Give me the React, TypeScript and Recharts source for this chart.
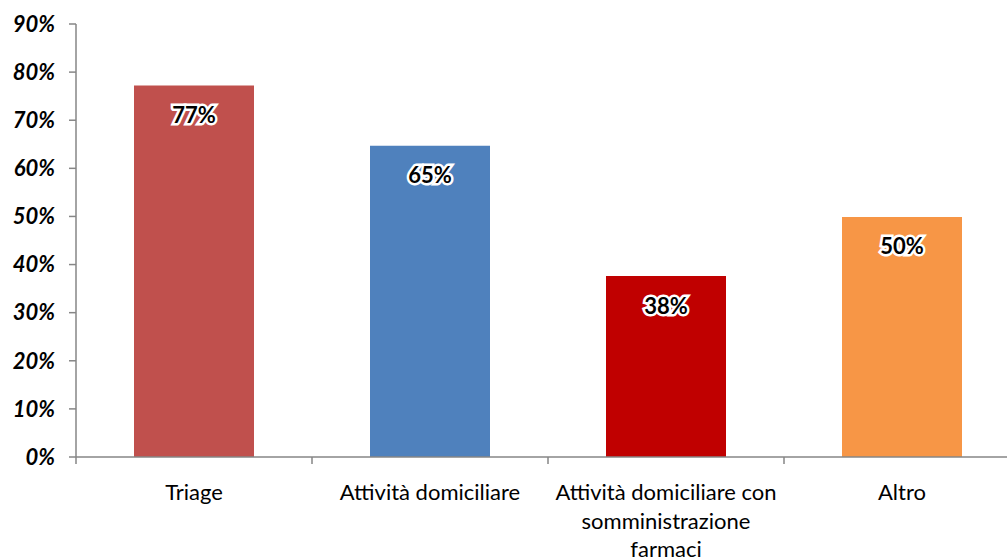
import React from 'react';
import { BarChart, Bar, XAxis, YAxis, Cell, LabelList } from 'recharts';

// categories, values (share of respondents) and bar colours
const categories = [
  'Triage',
  'Attività domiciliare',
  'Attività domiciliare con\nsomministrazione\nfarmaci',
  'Altro',
];
const values = [0.772, 0.647, 0.376, 0.499];
const colors = ['#C0504D', '#4F81BD', '#C00000', '#F79646'];
const yTicks = [0, 0.1, 0.2, 0.3, 0.4, 0.5, 0.6, 0.7, 0.8, 0.9];

const CHART_W = 1020;
const CHART_H = 558;
const Y_W = 76;
const AXIS_COLOR = '#868686';
const FONT = 'Lato, "DejaVu Sans", sans-serif';

const data = categories.map((name, i) => ({ name, value: values[i], color: colors[i] }));
const band = (CHART_W - Y_W) / categories.length;

const pct = (v: number) => `${Math.round(v * 100)}%`;

const CategoryTick = (props: any) => {
  const { x, y, payload, index } = props;
  const lines = String(payload.value).split('\n');
  const axisY = y - 8;
  return (
    <g>
      <line x1={x - band / 2} x2={x - band / 2} y1={axisY} y2={axisY + 7} stroke={AXIS_COLOR} strokeWidth={1.5} />
      {index === categories.length - 1 && (
        <line x1={x + band / 2} x2={x + band / 2} y1={axisY} y2={axisY + 7} stroke={AXIS_COLOR} strokeWidth={1.5} />
      )}
      <text x={x} y={axisY + 43} textAnchor="middle" fontFamily={FONT} fontSize={22} fill="#000">
        {lines.map((l, i) => (
          <tspan key={i} x={x} dy={i === 0 ? 0 : 28.5}>
            {l}
          </tspan>
        ))}
      </text>
    </g>
  );
};

const ValueLabel = (props: any) => {
  const { x, y, width, value } = props;
  return (
    <text
      x={x + width / 2}
      y={y + 29}
      textAnchor="middle"
      dominantBaseline="central"
      fontFamily={FONT}
      fontWeight="bold"
      fontSize={22}
      fill="#000"
      stroke="#fff"
      strokeWidth={5}
      strokeLinejoin="miter"
      paintOrder="stroke"
    >
      {pct(value)}
    </text>
  );
};

export default function App() {
  return (
    <div style={{ position: 'absolute', left: 0, top: 0, width: 1007, height: 558, overflow: 'hidden', background: '#fff' }}>
      <BarChart width={CHART_W} height={CHART_H} data={data} margin={{ top: 24, right: 0, bottom: 0, left: 0 }} barCategoryGap={0}>
        <XAxis
          dataKey="name"
          interval={0}
          height={101}
          axisLine={{ stroke: AXIS_COLOR, strokeWidth: 1.5 }}
          tickLine={false}
          tick={<CategoryTick />}
        />
        <YAxis
          width={Y_W}
          domain={[0, 0.9]}
          ticks={yTicks}
          tickFormatter={pct}
          axisLine={{ stroke: AXIS_COLOR, strokeWidth: 1.5 }}
          tickLine={{ stroke: AXIS_COLOR, strokeWidth: 1.5 }}
          tickSize={7}
          tickMargin={14}
          tick={{ fill: '#000', fontFamily: FONT, fontSize: 22, fontWeight: 'bold', fontStyle: 'italic' }}
        />
        <Bar dataKey="value" barSize={120} isAnimationActive={false}>
          {data.map((d, i) => (
            <Cell key={i} fill={d.color} />
          ))}
          <LabelList dataKey="value" content={<ValueLabel />} />
        </Bar>
      </BarChart>
    </div>
  );
}
